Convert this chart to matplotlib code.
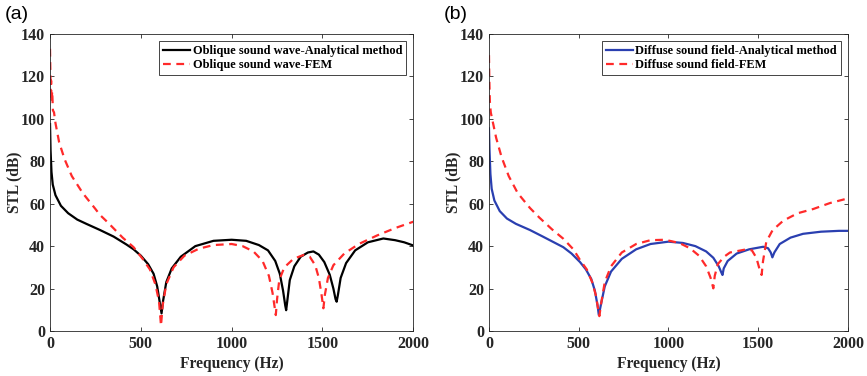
import matplotlib
matplotlib.use('Agg')
import matplotlib.pyplot as plt
import numpy as np

plt.rcParams['font.family'] = ['Liberation Serif', 'DejaVu Serif']
plt.rcParams['font.weight'] = 'bold'
plt.rcParams['axes.labelweight'] = 'bold'

# (a) 斜入射
freq_a_ana = [0, 3, 8, 15, 30, 60, 100, 150, 200, 275, 350, 420, 460, 500, 540, 570, 590, 605, 614,
              622, 640, 670, 720, 800, 900, 1000, 1080, 1150, 1200, 1240, 1265, 1283, 1295, 1300,
              1306, 1320, 1345, 1380, 1420, 1450, 1480, 1510, 1540, 1560, 1572, 1578, 1585, 1600,
              1630, 1680, 1750, 1835, 1900, 1950, 2000]
stl_a_ana = [97.5, 85, 75, 69, 64, 59, 55.5, 52.5, 50.5, 47.6, 44.5, 40.8, 38.5, 35.5, 31.5, 27, 21, 13, 8.3,
             14, 23, 29.5, 35, 40, 42.5, 43, 42.5, 40.5, 38, 33, 27, 19, 12, 9.8,
             14, 24, 30.5, 35, 37, 37.5, 36, 32.5, 26.5, 20, 15, 13.8, 17, 25,
             32, 38, 41.8, 43.6, 42.8, 41.8, 40.3]
freq_a_fem = [0, 2, 4, 6, 8, 12, 16, 22, 30, 50, 80, 120, 180, 250, 275, 320, 400, 460, 510, 550, 580,
              600, 611, 620, 640, 680, 740, 820, 900, 1000, 1060, 1120, 1170, 1205, 1225, 1237, 1243,
              1250, 1262, 1290, 1340, 1395, 1430, 1460, 1480, 1495, 1505, 1513, 1530, 1560, 1620,
              1700, 1800, 1900, 2000]
stl_a_fem = [133, 122, 112, 118, 108, 113, 104, 103, 98, 89, 81, 73, 65, 57.5, 54.7, 51, 44, 39.5, 34, 29, 22,
             14, 2.5, 12, 22, 30, 35.5, 38.8, 40.5, 41, 40, 37.5, 33, 26, 18, 11, 7.5,
             15, 24, 30, 34, 35.8, 35, 31, 25, 17, 10.7, 17, 25, 31, 36.5,
             41, 45, 48.5, 51.5]

# (b) 扩散声场
freq_b_ana = [0, 3, 8, 15, 30, 60, 100, 150, 228, 300, 414, 460, 507, 540, 570, 590, 605, 612,
              625, 645, 680, 740, 820, 900, 1000, 1080, 1150, 1210, 1250, 1280, 1295, 1301, 1308,
              1330, 1380, 1450, 1528, 1555, 1570, 1579, 1590, 1620, 1680, 1750, 1850, 1950, 2000]
stl_b_ana = [95.5, 85, 74, 67, 61.5, 56.5, 53, 50.5, 47.6, 44.5, 39.5, 36.5, 32.5, 29, 24.5, 19, 12, 7.5,
             13, 21, 28, 34, 38.5, 41, 42.1, 41.5, 40, 37.5, 34.5, 30.5, 27.5, 26.4, 29.5,
             33, 36.5, 38.5, 39.7, 39, 37, 34.7, 37, 41, 44, 45.8, 46.8, 47.2, 47.2]
freq_b_fem = [0, 2, 5, 10, 20, 40, 70, 110, 160, 228, 280, 350, 414, 470, 507, 545, 575, 595, 607, 615,
              625, 645, 680, 740, 820, 900, 980, 1060, 1120, 1170, 1210, 1235, 1250, 1258, 1275,
              1310, 1343, 1435, 1465, 1490, 1508, 1519, 1527, 1545, 1580, 1640, 1720, 1807, 1900, 2000]
stl_b_fem = [130, 118, 108, 103, 99, 91, 82, 73, 65, 58, 53.5, 48, 43.5, 38.5, 33.5, 29, 23, 17, 11, 7,
             13, 23, 30.5, 37, 41, 42.8, 43, 41.5, 39, 35.5, 30.5, 25, 20.1, 26, 31.5,
             35, 37, 38.5, 38, 34.5, 29, 26.4, 33, 42, 47.5, 52, 55.5, 57.5, 60.3, 62.5]

xticks = [0, 500, 1000, 1500, 2000]
yticks = [0, 20, 40, 60, 80, 100, 120, 140]

fig = plt.figure(figsize=(8.67, 3.76), dpi=100)
ax1 = fig.add_axes([0.0577, 0.1197, 0.419, 0.79])
ax2 = fig.add_axes([0.564, 0.1197, 0.414, 0.79])

ax1.plot(freq_a_ana, stl_a_ana, '-', color='black', lw=1.6,
         label='Oblique sound wave-Analytical method')
ax1.plot(freq_a_fem, stl_a_fem, '--', color='#ff2a2a', lw=1.6, dashes=(3.5, 2.5),
         label='Oblique sound wave-FEM')
ax2.plot(freq_b_ana, stl_b_ana, '-', color='#2a3fb0', lw=1.6,
         label='Diffuse sound field-Analytical method')
ax2.plot(freq_b_fem, stl_b_fem, '--', color='#ff2a2a', lw=1.6, dashes=(3.5, 2.5),
         label='Diffuse sound field-FEM')

for ax, tag in [(ax1, '(a)'), (ax2, '(b)')]:
    ax.set_xlim(0, 2000)
    ax.set_ylim(0, 140)
    ax.set_xticks(xticks)
    ax.set_yticks(yticks)
    ax.tick_params(direction='in', top=True, right=True, labelsize=11.5, colors='#262626',
                   length=3, width=0.6)
    for lab in ax.get_xticklabels() + ax.get_yticklabels():
        lab.set_fontweight('bold')
    for sp in ax.spines.values():
        sp.set_color('#262626')
        sp.set_linewidth(0.6)
    ax.set_xlabel('Frequency (Hz)', fontsize=11.2, fontweight='bold', labelpad=3, color='#262626')
    ax.set_ylabel('STL (dB)', fontsize=11.2, fontweight='bold', labelpad=-1, color='#262626')
    leg = ax.legend(loc='upper right', handlelength=2.2, handletextpad=0.2,
                    borderpad=0.3, labelspacing=0.15, fancybox=False, framealpha=1,
                    borderaxespad=0.6, prop={'size': 8.9, 'weight': 'bold'})
    leg.get_frame().set_edgecolor('#262626')
    leg.get_frame().set_linewidth(0.6)
    pos = ax.get_position()
    fig.text(pos.x0 - 0.052, 0.985, tag, fontsize=14, fontweight='normal',
             family='Liberation Sans', va='top', ha='left')

plt.savefig('out.png', dpi=100)
plt.close()
